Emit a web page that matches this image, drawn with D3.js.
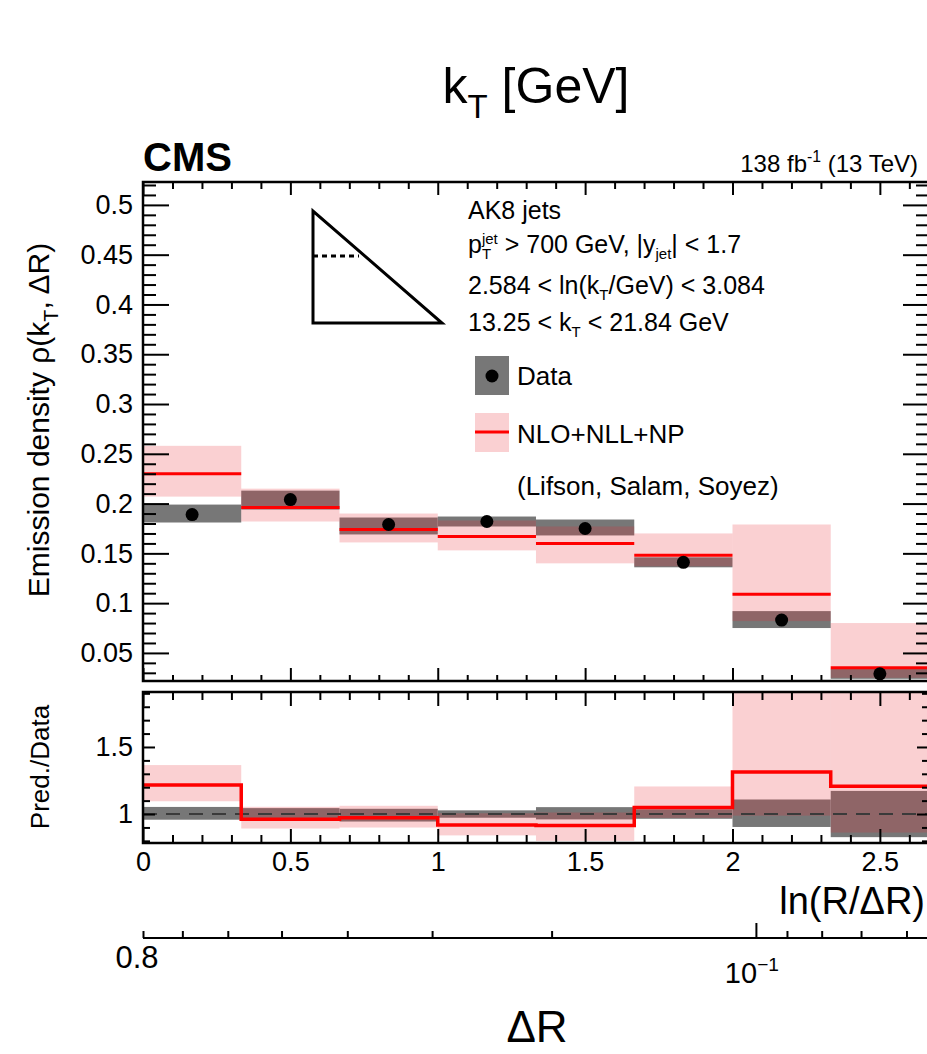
<!DOCTYPE html>
<html><head><meta charset="utf-8">
<script src="https://cdn.jsdelivr.net/npm/d3@7"></script>
<style>
body{margin:0;background:#fff;}
svg text{font-family:"Liberation Sans",Arial,Helvetica,sans-serif;white-space:pre;fill:#000;}
</style></head>
<body>
<script>
// ---------------- data ----------------
const binEdges = [0, 0.3333, 0.6667, 1.0, 1.3333, 1.6667, 2.0, 2.3333, 2.6667];
const dataVal = [0.189, 0.204, 0.179, 0.182, 0.175, 0.141, 0.083, 0.029];
const dataLo  = [0.181, 0.194, 0.169, 0.177, 0.168, 0.136, 0.075, 0.024];
const dataHi  = [0.199, 0.213, 0.186, 0.187, 0.184, 0.146, 0.092, 0.034];
const predVal = [0.230, 0.196, 0.174, 0.167, 0.160, 0.148, 0.109, 0.035];
const predLo  = [0.207, 0.182, 0.161, 0.153, 0.140, 0.137, 0.082, 0.025];
const predHi  = [0.258, 0.215, 0.190, 0.183, 0.177, 0.170, 0.179, 0.080];
const xTicks = [0, 0.5, 1, 1.5, 2, 2.5];
const xTickLabels = ["0", "0.5", "1", "1.5", "2", "2.5"];
const yTicksMain = [0.05, 0.1, 0.15, 0.2, 0.25, 0.3, 0.35, 0.4, 0.45, 0.5];
const yTickLabelsMain = ["0.05", "0.1", "0.15", "0.2", "0.25", "0.3", "0.35", "0.4", "0.45", "0.5"];
const yTicksRatio = [1, 1.5];
const yTickLabelsRatio = ["1", "1.5"];
const drMajor = [0.1];
const drMinor = [0.8, 0.7, 0.6, 0.5, 0.4, 0.3, 0.2, 0.09, 0.08, 0.07, 0.06];
const jetR = 0.8;

// ---------------- layout ----------------
const W = 927, H = 1054;
const L = 143, R = 929;
const mainTop = 182, mainBot = 681;
const ratTop = 692, ratBot = 843;
const drAxisY = 938;
const FONT = 27;

const svg = d3.select("body").append("svg").attr("width", W).attr("height", H);

const x = d3.scaleLinear().domain([0, 2.6667]).range([L, R]);
const yM = d3.scaleLinear().domain([0.0218, 0.523]).range([mainBot, mainTop]);
const yR = d3.scaleLinear().domain([0.784, 1.91]).range([ratBot, ratTop]);
const dr = d3.scaleLog().domain([jetR, jetR * Math.exp(-2.6667)]).range([L, R]);

const bins = dataVal.map((d, i) => ({
  x0: binEdges[i], x1: binEdges[i + 1],
  d, dlo: dataLo[i], dhi: dataHi[i],
  p: predVal[i], plo: predLo[i], phi: predHi[i]
}));

const GRAY = "#777777";
const PINK = "rgba(232,40,52,0.22)";
const RED = "#ff0000";

// rich text helper
function rich(parent, segs, o) {
  const size = o.size, small = size * (o.small || 0.66);
  const subOff = o.subOff != null ? o.subOff : 0.3, supOff = o.supOff != null ? o.supOff : 0.42;
  const outer = parent.append("g").attr("transform", `translate(${o.x},${o.y}) rotate(${o.rotate || 0})`);
  const g = outer.append("g");
  let cx = 0;
  for (const s of segs) {
    if (typeof s === "string") {
      const t = g.append("text").attr("x", cx).attr("y", 0).style("font-size", size + "px")
        .style("font-weight", o.weight || "normal").text(s);
      cx += t.node().getComputedTextLength();
    } else {
      let w = 0;
      if (s.sub != null) {
        const t = g.append("text").attr("x", cx).attr("y", size * subOff).style("font-size", small + "px").text(s.sub);
        w = Math.max(w, t.node().getComputedTextLength());
      }
      if (s.sup != null) {
        const t = g.append("text").attr("x", cx).attr("y", -size * supOff).style("font-size", small + "px").text(s.sup);
        w = Math.max(w, t.node().getComputedTextLength());
      }
      cx += w;
    }
  }
  const a = o.anchor || "start";
  const shift = a === "end" ? -cx : a === "middle" ? -cx / 2 : 0;
  g.attr("transform", `translate(${shift},0)`);
  return outer;
}

// clip paths
const defs = svg.append("defs");
defs.append("clipPath").attr("id", "clipM").append("rect")
  .attr("x", L).attr("y", mainTop).attr("width", R - L).attr("height", mainBot - mainTop);
defs.append("clipPath").attr("id", "clipR").append("rect")
  .attr("x", L).attr("y", ratTop).attr("width", R - L).attr("height", ratBot - ratTop);

// ---------------- main panel ----------------
const gm = svg.append("g").attr("clip-path", "url(#clipM)");
gm.selectAll("rect.dband").data(bins).join("rect")
  .attr("x", b => x(b.x0)).attr("width", b => x(b.x1) - x(b.x0))
  .attr("y", b => yM(b.dhi)).attr("height", b => yM(b.dlo) - yM(b.dhi))
  .attr("fill", GRAY);
gm.selectAll("rect.pband").data(bins).join("rect")
  .attr("x", b => x(b.x0)).attr("width", b => x(b.x1) - x(b.x0))
  .attr("y", b => yM(b.phi)).attr("height", b => yM(b.plo) - yM(b.phi))
  .attr("fill", PINK);
gm.selectAll("line.pred").data(bins).join("line")
  .attr("x1", b => x(b.x0)).attr("x2", b => x(b.x1))
  .attr("y1", b => yM(b.p)).attr("y2", b => yM(b.p))
  .attr("stroke", RED).attr("stroke-width", 3);
gm.selectAll("circle").data(bins).join("circle")
  .attr("cx", b => x((b.x0 + b.x1) / 2)).attr("cy", b => yM(b.d)).attr("r", 6.5).attr("fill", "#000");

// ---------------- ratio panel ----------------
const gr = svg.append("g").attr("clip-path", "url(#clipR)");
gr.selectAll("rect.dband").data(bins).join("rect")
  .attr("x", b => x(b.x0)).attr("width", b => x(b.x1) - x(b.x0))
  .attr("y", b => yR(b.dhi / b.d)).attr("height", b => yR(b.dlo / b.d) - yR(b.dhi / b.d))
  .attr("fill", GRAY);
gr.selectAll("rect.pband").data(bins).join("rect")
  .attr("x", b => x(b.x0)).attr("width", b => x(b.x1) - x(b.x0))
  .attr("y", b => yR(b.phi / b.d)).attr("height", b => yR(b.plo / b.d) - yR(b.phi / b.d))
  .attr("fill", PINK);
gr.append("line").attr("x1", L).attr("x2", R).attr("y1", yR(1)).attr("y2", yR(1))
  .attr("stroke", "#3a3a3a").attr("stroke-width", 2).attr("stroke-dasharray", "14,9");
const stepPts = [];
bins.forEach(b => { stepPts.push([b.x0, b.p / b.d]); stepPts.push([b.x1, b.p / b.d]); });
gr.append("path").attr("d", d3.line().x(p => x(p[0])).y(p => yR(p[1]))(stepPts))
  .attr("fill", "none").attr("stroke", RED).attr("stroke-width", 3.5);

// ---------------- axes ----------------
function styleAxis(g) {
  g.select(".domain").remove();
  g.selectAll(".tick line").attr("stroke", "#000").attr("stroke-width", 2);
  g.selectAll(".tick text").style("font-size", FONT + "px").attr("fill", "#000");
}
const xMinor = d3.range(1, 27).map(i => i / 10).filter(v => v * 10 % 5 !== 0);
const yMinorMain = d3.range(3, 53).map(i => i / 100).filter(v => Math.round(v * 100) % 5 !== 0);
const yMinorRatio = [0.8, 0.9, 1.1, 1.2, 1.3, 1.4, 1.6, 1.7, 1.8, 1.9];

[[mainBot, d3.axisBottom, -13, -6], [mainTop, d3.axisTop, -13, -7],
 [ratBot, d3.axisBottom, -14, -8], [ratTop, d3.axisTop, -14, -8]].forEach(([yy, ax, maj, mn], k) => {
  const showLabels = (k === 2);
  svg.append("g").attr("transform", `translate(0,${yy})`)
    .call(ax(x).tickValues(xTicks).tickSizeInner(maj).tickSizeOuter(0).tickPadding(9)
      .tickFormat((d, i) => showLabels ? xTickLabels[i] : ""))
    .call(styleAxis);
  svg.append("g").attr("transform", `translate(0,${yy})`)
    .call(ax(x).tickValues(xMinor).tickSizeInner(mn).tickSizeOuter(0).tickFormat(""))
    .call(styleAxis);
});
// main y
svg.append("g").attr("transform", `translate(${L},0)`)
  .call(d3.axisLeft(yM).tickValues(yTicksMain).tickSizeInner(-26).tickSizeOuter(0).tickPadding(10)
    .tickFormat((d, i) => yTickLabelsMain[i])).call(styleAxis);
svg.append("g").attr("transform", `translate(${L},0)`)
  .call(d3.axisLeft(yM).tickValues(yMinorMain).tickSizeInner(-13).tickSizeOuter(0).tickFormat("")).call(styleAxis);
svg.append("g").attr("transform", `translate(${R},0)`)
  .call(d3.axisRight(yM).tickValues(yTicksMain).tickSizeInner(-26).tickSizeOuter(0).tickFormat("")).call(styleAxis);
svg.append("g").attr("transform", `translate(${R},0)`)
  .call(d3.axisRight(yM).tickValues(yMinorMain).tickSizeInner(-13).tickSizeOuter(0).tickFormat("")).call(styleAxis);
// ratio y
svg.append("g").attr("transform", `translate(${L},0)`)
  .call(d3.axisLeft(yR).tickValues(yTicksRatio).tickSizeInner(-12).tickSizeOuter(0).tickPadding(10)
    .tickFormat((d, i) => yTickLabelsRatio[i])).call(styleAxis);
svg.append("g").attr("transform", `translate(${L},0)`)
  .call(d3.axisLeft(yR).tickValues(yMinorRatio).tickSizeInner(-7).tickSizeOuter(0).tickFormat("")).call(styleAxis);
svg.append("g").attr("transform", `translate(${R},0)`)
  .call(d3.axisRight(yR).tickValues(yTicksRatio).tickSizeInner(-12).tickSizeOuter(0).tickFormat("")).call(styleAxis);
svg.append("g").attr("transform", `translate(${R},0)`)
  .call(d3.axisRight(yR).tickValues(yMinorRatio).tickSizeInner(-7).tickSizeOuter(0).tickFormat("")).call(styleAxis);

// frames
svg.append("rect").attr("x", L).attr("y", mainTop).attr("width", R - L).attr("height", mainBot - mainTop)
  .attr("fill", "none").attr("stroke", "#000").attr("stroke-width", 2.5);
svg.append("rect").attr("x", L).attr("y", ratTop).attr("width", R - L).attr("height", ratBot - ratTop)
  .attr("fill", "none").attr("stroke", "#000").attr("stroke-width", 2.5);

// secondary Delta R axis
const gdr = svg.append("g").attr("transform", `translate(0,${drAxisY})`);
gdr.call(d3.axisBottom(dr).tickValues(drMajor).tickSizeInner(-15).tickSizeOuter(0).tickFormat(""));
gdr.call(g => g.select(".domain").remove());
const gdr2 = svg.append("g").attr("transform", `translate(0,${drAxisY})`);
gdr2.call(d3.axisBottom(dr).tickValues(drMinor).tickSizeInner(-7).tickSizeOuter(0).tickFormat(""));
gdr2.call(g => g.select(".domain").remove());
svg.selectAll(".tick line").attr("stroke", "#000").attr("stroke-width", 2);
svg.append("line").attr("x1", L).attr("x2", R).attr("y1", drAxisY).attr("y2", drAxisY)
  .attr("stroke", "#000").attr("stroke-width", 2);
rich(svg, ["0.8"], { x: dr(0.8) - 6, y: 968, size: 31, anchor: "middle" });
rich(svg, ["10", { sup: "\u22121" }], { x: dr(0.1) - 4, y: 983, size: 29, anchor: "middle" });

// ---------------- texts ----------------
rich(svg, ["k", { sub: "T" }, " [GeV]"], { x: 536, y: 103, size: 50, anchor: "middle" });
rich(svg, ["CMS"], { x: L, y: 171, size: 40, weight: "bold" });
rich(svg, ["138 fb", { sup: "-1" }, " (13 TeV)"], { x: 918, y: 172, size: 24, anchor: "end" });
rich(svg, ["Emission density \u03c1(k", { sub: "T" }, ", \u0394R)"], { x: 49, y: 420, size: 30, anchor: "middle", rotate: -90 });
rich(svg, ["Pred./Data"], { x: 49, y: 767, size: 26, anchor: "middle", rotate: -90 });
rich(svg, ["ln(R/\u0394R)"], { x: 925, y: 914, size: 38, anchor: "end" });
rich(svg, ["\u0394R"], { x: 537, y: 1042, size: 44, anchor: "middle" });

// info block
const info = { size: 25, small: 0.6, subOff: 0.25, supOff: 0.36 };
rich(svg, ["AK8 jets"], Object.assign({ x: 468, y: 219 }, info));
rich(svg, ["p", { sub: "T", sup: "jet" }, " > 700 GeV, |y", { sub: "jet" }, "| < 1.7"], Object.assign({ x: 468, y: 253 }, info));
rich(svg, ["2.584 < ln(k", { sub: "T" }, "/GeV) < 3.084"], Object.assign({ x: 468, y: 294 }, info));
rich(svg, ["13.25 < k", { sub: "T" }, " < 21.84 GeV"], Object.assign({ x: 468, y: 331 }, info));

// triangle icon
svg.append("path").attr("d", "M313,211 L313,323 L442,323 Z").attr("fill", "none")
  .attr("stroke", "#000").attr("stroke-width", 3).attr("stroke-linejoin", "miter");
svg.append("line").attr("x1", 313).attr("x2", 359).attr("y1", 256).attr("y2", 256)
  .attr("stroke", "#000").attr("stroke-width", 3).attr("stroke-dasharray", "5,4");

// legend
const lg = svg.append("g");
lg.append("rect").attr("x", 475).attr("y", 356).attr("width", 34).attr("height", 39).attr("fill", GRAY);
lg.append("circle").attr("cx", 492).attr("cy", 376).attr("r", 6.5).attr("fill", "#000");
rich(lg, ["Data"], { x: 517, y: 385, size: 26 });
lg.append("rect").attr("x", 475).attr("y", 413).attr("width", 34).attr("height", 39).attr("fill", PINK);
lg.append("line").attr("x1", 475).attr("x2", 509).attr("y1", 432).attr("y2", 432).attr("stroke", RED).attr("stroke-width", 3);
rich(lg, ["NLO+NLL+NP"], { x: 517, y: 443, size: 26 });
rich(lg, ["(Lifson, Salam, Soyez)"], { x: 517, y: 495, size: 26 });
</script>
</body></html>
